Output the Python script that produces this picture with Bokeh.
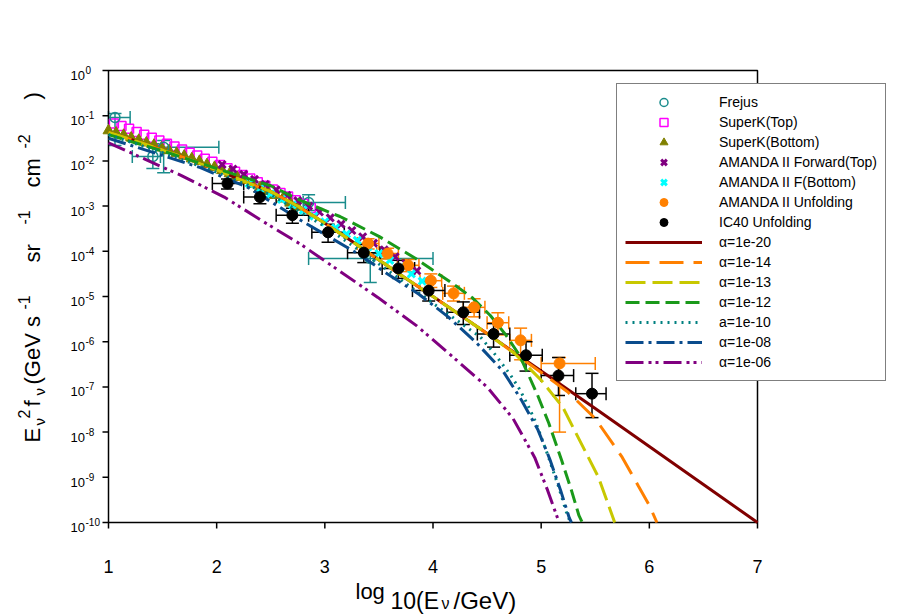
import numpy as np
from bokeh.plotting import figure
from bokeh.models import (ColumnDataSource, Whisker, TeeHead, Legend, LegendItem,
                          Label, Range1d)
from bokeh.embed import file_html
from bokeh.resources import INLINE

FONT = "Liberation Sans"

# ---------------- model curves: x = log10(E/GeV), y = log10(E^2 f) ----------------
a20_x = [1, 1.25, 1.5, 1.75, 2, 2.25, 2.5, 2.75, 3, 3.25, 3.5, 3.75, 4, 4.5, 5, 5.5, 6, 6.5, 7]
a20_y = [-1.37, -1.56, -1.76, -1.97, -2.2, -2.45, -2.68, -3.0, -3.38, -3.78, -4.19, -4.6, -5.0,
         -5.82, -6.65, -7.48, -8.32, -9.16, -10.0]

a14_x = [1, 1.25, 1.5, 1.75, 2, 2.25, 2.5, 2.75, 3, 3.25, 3.5, 3.75, 4, 4.5, 5, 5.25, 5.5, 5.75, 5.9, 6.0, 6.07]
a14_y = [-1.37, -1.56, -1.76, -1.97, -2.2, -2.45, -2.68, -3.0, -3.38, -3.78, -4.19, -4.6, -5.0,
         -5.82, -6.68, -7.12, -7.7, -8.56, -9.2, -9.62, -10.0]

a13_x = [1, 1.25, 1.5, 1.75, 2, 2.25, 2.5, 2.75, 3, 3.25, 3.5, 3.75, 4, 4.5, 4.75, 5.0, 5.2, 5.37, 5.53, 5.68]
a13_y = [-1.37, -1.56, -1.76, -1.97, -2.2, -2.45, -2.68, -3.0, -3.38, -3.78, -4.19, -4.6, -5.0,
         -5.82, -6.25, -6.85, -7.45, -8.25, -9.0, -10.0]

a12_x = [1, 1.5, 2, 2.5, 2.78, 3.14, 3.5, 3.84, 4.0, 4.18, 4.36, 4.53, 4.67, 4.8, 4.88, 4.97, 5.07,
         5.19, 5.28, 5.35, 5.38]
a12_y = [-1.42, -1.78, -2.17, -2.55, -2.88, -3.23, -3.67, -4.16, -4.42, -4.71, -5.02, -5.42, -5.84,
         -6.3, -6.72, -7.2, -7.8, -8.63, -9.29, -9.85, -10.0]

a10_x = [1, 1.5, 2, 2.5, 3, 3.5, 4.0, 4.44, 4.58, 4.72, 4.8, 4.88, 4.95, 5.06, 5.16, 5.23, 5.27]
a10_y = [-1.42, -1.82, -2.25, -2.75, -3.45, -4.28, -5.15, -5.9, -6.3, -6.75, -7.05, -7.42, -7.78,
         -8.5, -9.2, -9.75, -10.0]

a08_x = [1, 1.5, 1.85, 2.3, 2.78, 3.29, 3.58, 3.87, 4.14, 4.4, 4.65, 4.82, 4.97, 5.08, 5.18, 5.26, 5.28]
a08_y = [-1.5, -1.88, -2.15, -2.6, -3.32, -4.03, -4.5, -4.95, -5.45, -6.02, -6.66, -7.3, -7.95,
         -8.6, -9.29, -9.9, -10.0]

a06_x = [1.0, 1.67, 2.07, 2.47, 2.78, 3.49, 3.85, 4.19, 4.5, 4.74, 4.94, 5.06, 5.16, 5.17]
a06_y = [-1.6, -2.32, -2.8, -3.4, -3.85, -5.02, -5.65, -6.35, -7.0, -7.7, -8.56, -9.29, -9.96, -10.0]

# ---------------- measurements ----------------
frejus_x = [1.06, 1.41, 1.51, 2.85, 3.42]
frejus_y = [-1.04, -1.9, -1.7, -2.92, -4.16]
frejus_xlo = [1.0, 1.22, 1.5, 2.8, 2.85]
frejus_xhi = [1.2, 1.48, 2.02, 3.19, 4.0]
frejus_ylo = [-1.66, -2.17, -2.26, -3.1, -4.69]
frejus_yhi = [-0.95, -1.62, -1.55, -2.75, -4.05]

superk_top_x = [1.05, 1.12, 1.19, 1.26, 1.33, 1.40, 1.47, 1.54, 1.61, 1.68, 1.75, 1.82, 1.89,
                1.96, 2.03, 2.10, 2.17, 2.24, 2.31, 2.38, 2.45, 2.52, 2.59, 2.66, 2.73, 2.80, 2.87]
superk_top_y = [-1.17, -1.23, -1.29, -1.36, -1.42, -1.49, -1.55, -1.62, -1.68, -1.75, -1.82, -1.88,
                -1.95, -2.02, -2.09, -2.16, -2.24, -2.31, -2.39, -2.47, -2.55, -2.63, -2.71, -2.79,
                -2.87, -2.95, -3.04]

superk_bot_x = [1.0, 1.07, 1.14, 1.21, 1.28, 1.35, 1.42, 1.49, 1.56, 1.63, 1.70, 1.77, 1.84,
                1.91, 1.98, 2.05, 2.12, 2.19, 2.26, 2.33, 2.40, 2.47, 2.54, 2.61, 2.68, 2.75]
superk_bot_y = [-1.33, -1.38, -1.43, -1.49, -1.54, -1.6, -1.65, -1.71, -1.77, -1.83, -1.89, -1.95,
                -2.01, -2.08, -2.14, -2.21, -2.28, -2.36, -2.43, -2.51, -2.59, -2.67, -2.76, -2.84,
                -2.93, -3.02]

amanda_fwd_top_x = [2.05, 2.15, 2.25, 2.35, 2.45, 2.55, 2.65, 2.75, 2.85, 2.95, 3.05, 3.15, 3.25,
                    3.35, 3.45, 3.55, 3.65, 3.75, 3.85]
amanda_fwd_top_y = [-2.08, -2.18, -2.3, -2.41, -2.52, -2.64, -2.76, -2.88, -3.0, -3.13, -3.26, -3.4,
                    -3.54, -3.68, -3.82, -3.97, -4.12, -4.27, -4.43]

amanda_fwd_bot_x = [2.3, 2.4, 2.5, 2.6, 2.7, 2.8, 2.9, 3.0, 3.1, 3.2, 3.3, 3.4, 3.5, 3.6, 3.7, 3.8, 3.9]
amanda_fwd_bot_y = [-2.5, -2.62, -2.73, -2.85, -2.97, -3.09, -3.22, -3.35, -3.48, -3.62, -3.76,
                    -3.9, -4.05, -4.2, -4.35, -4.5, -4.66]

amanda_unf_x = [3.4, 3.58, 3.77, 3.98, 4.19, 4.38, 4.6, 4.81, 5.17]
amanda_unf_y = [-3.83, -4.05, -4.31, -4.65, -4.93, -5.24, -5.58, -5.97, -6.48]
amanda_unf_xlo = [3.3, 3.48, 3.67, 3.88, 4.09, 4.28, 4.5, 4.71, 5.0]
amanda_unf_xhi = [3.5, 3.68, 3.87, 4.08, 4.29, 4.48, 4.7, 4.91, 5.5]
amanda_unf_ylo = [-3.95, -4.17, -4.45, -4.8, -5.1, -5.45, -5.85, -6.4, -8.0]
amanda_unf_yhi = [-3.72, -3.93, -4.18, -4.5, -4.77, -5.05, -5.36, -5.7, -6.35]

ic40_x = [2.1, 2.4, 2.7, 3.03, 3.36, 3.68, 3.96, 4.28, 4.56, 4.86, 5.16, 5.47]
ic40_y = [-2.5, -2.8, -3.2, -3.58, -4.03, -4.38, -4.87, -5.35, -5.83, -6.3, -6.75, -7.15]
ic40_xlo = [1.96, 2.25, 2.55, 2.88, 3.21, 3.53, 3.81, 4.13, 4.41, 4.71, 5.0, 5.32]
ic40_xhi = [2.25, 2.55, 2.85, 3.18, 3.51, 3.83, 4.11, 4.43, 4.71, 5.01, 5.3, 5.6]
ic40_ylo = [-2.62, -2.95, -3.38, -3.8, -4.25, -4.6, -5.1, -5.62, -6.12, -6.65, -7.19, -7.68]
ic40_yhi = [-2.4, -2.68, -3.05, -3.4, -3.85, -4.2, -4.68, -5.12, -5.6, -6.0, -6.35, -6.7]

x_ticks = [1, 2, 3, 4, 5, 6, 7]
x_tick_labels = ["1", "2", "3", "4", "5", "6", "7"]
y_tick_exponents = [0, -1, -2, -3, -4, -5, -6, -7, -8, -9, -10]


def pw(v):
    return [10.0 ** t for t in v]


# ---------------- geometry (page pixels) ----------------
W, H = 910, 616
FL, FR, FT, FB = 108, 757, 70, 522          # where the axis box sits on the page
XMIN, XMAX = x_ticks[0], x_ticks[-1]
DMAX, DMIN = y_tick_exponents[0], y_tick_exponents[-1]
XS = (FR - FL) / (XMAX - XMIN)               # px per unit of log E
YS = (FB - FT) / (DMAX - DMIN)               # px per decade


def px2x(px):
    return XMIN + (px - FL) / XS


def py2d(py):
    return DMAX - (py - FT) / YS


def py2y(py):
    return 10.0 ** py2d(py)


p = figure(width=W, height=H,
           x_range=Range1d(px2x(0), px2x(W)), y_range=Range1d(py2y(H), py2y(0)),
           y_axis_type="log", x_axis_location=None, y_axis_location=None,
           output_backend="svg", toolbar_location=None, min_border=0,
           background_fill_color="white", border_fill_color="white")
p.grid.visible = False
p.outline_line_color = None

ybot, ytop = 10.0 ** DMIN, 10.0 ** DMAX
ytick_vals = [10.0 ** k for k in y_tick_exponents]

# axis box and ticks
p.quad(left=[XMIN], right=[XMAX], bottom=[ybot], top=[ytop], fill_color=None,
       line_color="black", line_width=1.5)
p.ray(x=x_ticks, y=[ybot] * len(x_ticks), length=6, length_units="screen",
      angle=-np.pi / 2, line_color="black", line_width=1.5)
p.ray(x=[XMIN] * len(ytick_vals), y=ytick_vals, length=6, length_units="screen",
      angle=np.pi, line_color="black", line_width=1.5)


def add_text(txt, px, py, size, angle=0.0, align="left"):
    p.add_layout(Label(x=px2x(px), y=py2y(py), text=txt, text_font=FONT, text_font_size=size,
                       text_color="black", text_baseline="alphabetic", text_align=align,
                       angle=angle))


# x tick labels
for xv, lab in zip(x_ticks, x_tick_labels):
    p.add_layout(Label(x=xv, y=py2y(FB + 44), text=lab, text_font=FONT, text_font_size="18px",
                       text_color="black", text_baseline="alphabetic", text_align="center"))

# y tick labels 10^k
for k in y_tick_exponents:
    ty = FT + (DMAX - k) * YS
    add_text("10", 70, ty + 5, "13px")
    add_text(str(k), 85, ty - 0.5, "10px")

# x title: log 10(E_nu/GeV)
for txt, xx, yy, fs in [("log", 355, 591, "22px"), ("10(E", 390, 600, "23px"),
                        ("\u03bd", 441, 603, "16px"), ("/GeV)", 453, 600, "24px")]:
    add_text(txt, xx, yy, fs)

# y title: E_nu^2 f_nu (GeV s^-1 sr^-1 cm^-2), rotated
for txt, xx, yy, fs in [("E", 32, 442, "22px"), ("\u03bd", 39, 425, "15px"), ("2", 23, 418, "16px"),
                        ("f", 32, 406, "22px"), ("\u03bd", 39, 395, "15px"),
                        ("(GeV s", 32, 384, "22px"), ("-1", 23, 309, "16px"),
                        ("sr", 32, 262, "22px"), ("-1", 23, 224, "16px"),
                        ("cm", 32, 187, "22px"), ("-2", 23, 148, "16px"), (")", 32, 99, "22px")]:
    add_text(txt, xx, yy, fs, angle=np.pi / 2)

# ---------------- measurement markers ----------------
r_skt = p.scatter(superk_top_x, pw(superk_top_y), marker="square", size=9, fill_color=None,
                  line_color="#FF00FF", line_width=1.5)
r_skb = p.scatter(superk_bot_x, pw(superk_bot_y), marker="triangle", size=11,
                  fill_color="#808000", line_color="#808000")


def errbars(src, color):
    for base, lo, hi, dim in (("x", "ylo", "yhi", "height"), ("y", "xlo", "xhi", "width")):
        p.add_layout(Whisker(source=src, base=base, lower=lo, upper=hi, dimension=dim,
                             line_color=color, line_width=1.5,
                             upper_head=TeeHead(size=13, line_color=color, line_width=1.5),
                             lower_head=TeeHead(size=13, line_color=color, line_width=1.5)))


FRE_C = "#1A8C8C"
fre_src = ColumnDataSource(dict(x=frejus_x, y=pw(frejus_y), xlo=frejus_xlo, xhi=frejus_xhi,
                                ylo=pw(frejus_ylo), yhi=pw(frejus_yhi)))
errbars(fre_src, FRE_C)
r_fre = p.scatter("x", "y", source=fre_src, marker="circle", size=10, fill_color=None,
                  line_color=FRE_C, line_width=1.5)

r_aft = p.scatter(amanda_fwd_top_x, pw(amanda_fwd_top_y), marker="x", size=10,
                  line_color="#800080", line_width=3)
r_afb = p.scatter(amanda_fwd_bot_x, pw(amanda_fwd_bot_y), marker="x", size=10,
                  line_color="#00FFFF", line_width=3)

# ---------------- model curves ----------------
r20 = p.line(a20_x, pw(a20_y), line_color="#800000", line_width=3)
r14 = p.line(a14_x, pw(a14_y), line_color="#FF8000", line_width=3, line_dash="24 10")
r13 = p.line(a13_x, pw(a13_y), line_color="#C8C800", line_width=3, line_dash="20 7")
r12 = p.line(a12_x, pw(a12_y), line_color="#1A991A", line_width=3, line_dash="14 6")
r10 = p.line(a10_x, pw(a10_y), line_color="#008080", line_width=3, line_dash="2 5")
r08 = p.line(a08_x, pw(a08_y), line_color="#0A4C8C", line_width=3, line_dash="18 5 3 5")
r06 = p.line(a06_x, pw(a06_y), line_color="#800080", line_width=3, line_dash="18 5 3 4 3 5")

# ---------------- unfolding results with error bars ----------------
ORG = "#FF8000"
au_src = ColumnDataSource(dict(x=amanda_unf_x, y=pw(amanda_unf_y), xlo=amanda_unf_xlo,
                               xhi=amanda_unf_xhi, ylo=pw(amanda_unf_ylo), yhi=pw(amanda_unf_yhi)))
errbars(au_src, ORG)
r_au = p.scatter("x", "y", source=au_src, marker="circle", size=11, fill_color=ORG,
                 line_color=ORG)

ic_src = ColumnDataSource(dict(x=ic40_x, y=pw(ic40_y), xlo=ic40_xlo, xhi=ic40_xhi,
                               ylo=pw(ic40_ylo), yhi=pw(ic40_yhi)))
errbars(ic_src, "black")
r_ic = p.scatter("x", "y", source=ic_src, marker="circle", size=11, fill_color="black",
                 line_color="black")

items = [
    LegendItem(label="Frejus", renderers=[r_fre]),
    LegendItem(label="SuperK(Top)", renderers=[r_skt]),
    LegendItem(label="SuperK(Bottom)", renderers=[r_skb]),
    LegendItem(label="AMANDA II Forward(Top)", renderers=[r_aft]),
    LegendItem(label="AMANDA II F(Bottom)", renderers=[r_afb]),
    LegendItem(label="AMANDA II Unfolding", renderers=[r_au]),
    LegendItem(label="IC40 Unfolding", renderers=[r_ic]),
    LegendItem(label="\u03b1=1e-20", renderers=[r20]),
    LegendItem(label="\u03b1=1e-14", renderers=[r14]),
    LegendItem(label="\u03b1=1e-13", renderers=[r13]),
    LegendItem(label="\u03b1=1e-12", renderers=[r12]),
    LegendItem(label="a=1e-10", renderers=[r10]),
    LegendItem(label="\u03b1=1e-08", renderers=[r08]),
    LegendItem(label="\u03b1=1e-06", renderers=[r06]),
]
legend = Legend(items=items, location=(616, H - 381), glyph_width=77, glyph_height=20,
                label_height=20, spacing=0, padding=8, margin=0, label_standoff=17,
                label_text_font=FONT, label_text_font_size="14px", label_text_color="black",
                border_line_color="black", border_line_width=1.5,
                background_fill_color="white", background_fill_alpha=1.0)
p.add_layout(legend)

open("out.html", "w").write(file_html(p, INLINE))
